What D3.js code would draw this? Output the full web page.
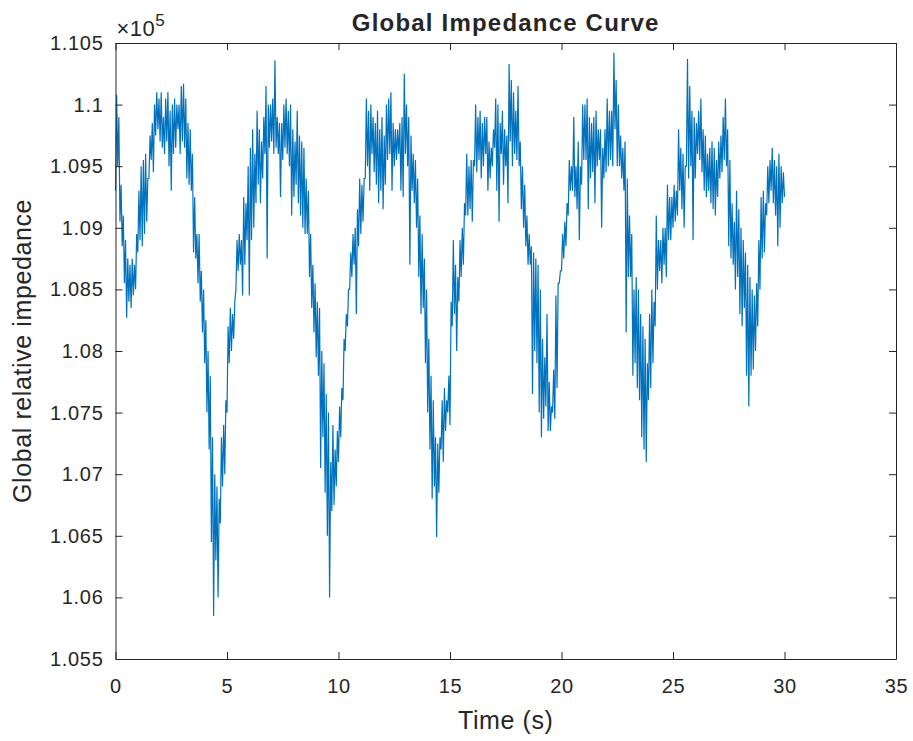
<!DOCTYPE html>
<html>
<head>
<meta charset="utf-8">
<script src="https://cdn.jsdelivr.net/npm/d3@7"></script>
<style>
body { margin: 0; background: #fff; }
svg text { font-family: "Liberation Sans", Arial, Helvetica, sans-serif; fill: #262626; }
</style>
</head>
<body>
<svg id="chart"></svg>
<script>
// サンプル間隔 (s)
var sampleStep = 0.05;

// 読み取った全体インピーダンス値 (0.05 s ごと, 1 行 = 1 秒)
var impedance = [
  109300,110080,109500,109900,109050,109350,108850,109100,108550,108900,108270,108750,108400,108700,108350,108750,108450,108700,108500,108950,
  108800,109300,108900,109500,108850,109550,108950,109600,109050,109400,109400,109750,109550,109850,109450,110000,109750,110100,109800,110050,
  109700,110100,109650,109900,109600,110050,109700,110100,109500,109950,109300,110000,109600,110050,109650,110000,109800,110000,109600,110150,
  109700,110170,109650,110050,109400,109850,109350,109800,109300,109600,108800,109250,108750,108950,108550,108950,108400,108650,108150,108500,
  107900,108250,107500,108000,107200,107800,106450,107300,105850,107000,106300,106900,106000,106800,106600,107300,106900,107400,107000,107600,
  107500,108200,107900,108350,108000,108300,108100,108400,108500,108900,108650,108950,108700,108900,108450,109250,108700,109200,108900,109500,
  108450,109650,108900,109800,109000,109600,109200,109950,109350,109800,109200,109700,109400,109900,109600,110150,108750,110000,109650,110000,
  109700,110050,109600,110360,109650,109900,109600,109850,109250,109850,109550,110000,109650,110050,109600,109950,109500,110000,109100,109800,
  109250,109700,109350,109950,109200,109750,109100,109700,109000,109650,108950,109400,108950,109300,108600,108950,108350,108700,108150,108550,
  107950,108400,107800,108350,107050,108000,107300,107900,106850,107650,106500,107500,106000,107100,106700,107400,106750,107200,106900,107350,
  107100,107550,107300,107700,107600,108100,108000,108300,108200,108500,108500,108800,108600,108950,108700,109000,108300,109150,108850,109400,
  108950,109350,109050,109400,109400,110050,109500,109950,109300,110000,109600,109900,109450,109850,109350,109950,109200,109800,109300,109900,
  109150,109750,109350,110000,109550,110050,109600,110100,109300,109850,109500,109800,109550,109800,109600,109850,109300,109900,109250,110250,
  109600,110000,109500,109900,108700,109750,109300,109600,109200,109550,109000,109400,108600,109100,108300,108950,108350,108750,107900,108500,
  107500,108100,107200,107800,106800,107600,106900,107300,106490,107250,106850,107300,107200,107600,107100,107700,107350,107600,107500,107800,
  107400,108400,108200,108900,108300,108700,108000,108600,108400,108900,108600,109000,108700,109200,109100,109600,109100,109500,109150,109550,
  109050,109550,109500,110000,109450,109900,109550,109950,109400,109850,109500,109900,109600,109900,109300,109700,109400,109650,109500,109800,
  109650,110050,109300,110000,109050,109850,109600,109950,109350,109800,109500,109750,109200,110330,109700,110200,109500,110100,109600,109950,
  109550,110150,109500,109700,109150,109500,109000,109350,108850,109100,108700,108950,108700,108850,107650,108800,108000,108750,107900,108700,
  107500,108500,107300,108100,107450,107950,107550,108300,107350,107750,107350,107550,107500,107850,107450,108450,107700,108550,108550,108650,
  108650,108950,108750,109050,108850,109200,109100,109550,109300,109500,109300,109900,109250,109500,109150,109700,108900,109500,109350,110000,
  109550,110000,109550,110050,109150,109900,109400,109850,109450,109900,109200,109950,109500,109800,109550,109800,109000,109650,109400,109800,
  109450,110050,109500,109950,109550,109950,109500,110420,109800,110200,109500,110000,109500,109750,109400,109650,109300,109700,108150,109400,
  108600,109100,108600,108950,107800,108500,107900,108600,107700,108500,107600,108300,107300,108200,107200,108100,107100,107900,107600,108300,
  107700,108500,107900,108400,108200,109100,108500,108900,108650,108900,108550,109000,108700,109000,108600,109350,108900,109250,108900,109250,
  109000,109350,109050,109300,109100,109800,109300,109650,109150,109600,109000,109500,109500,110370,109400,110150,109500,109950,108900,109900,
  109400,109850,109600,109950,109550,110050,109450,109800,109300,109750,109250,109600,109300,109650,109200,109700,109150,109650,109100,109550,
  109250,109700,109400,109750,109450,109900,109550,110050,109500,109800,108850,109550,108750,109200,108700,109050,108500,109300,108600,109150,
  108300,109000,108200,108900,108350,108800,107800,108700,107550,108600,107800,108500,107850,108450,108000,108550,108200,108900,108500,109250,
  108750,109300,108800,109200,109100,109500,109200,109550,109300,109650,109200,109550,109100,109500,108850,109600,109000,109500,109200,109450,
  109250
];

// 目盛
var xTicks = [0, 5, 10, 15, 20, 25, 30, 35];
var yTicks = [105500, 106000, 106500, 107000, 107500, 108000, 108500, 109000, 109500, 110000, 110500];
var yTickLabels = ["1.055", "1.06", "1.065", "1.07", "1.075", "1.08", "1.085", "1.09", "1.095", "1.1", "1.105"];

var titleText = "Global Impedance Curve";
var xLabelText = "Time (s)";
var yLabelText = "Global relative impedance";

// 表示サイズを設定
var margin = { top: 43, right: 17, bottom: 82, left: 115.5 };
var size = { width: 913, height: 741 };
var width = size.width - margin.left - margin.right;
var height = size.height - margin.top - margin.bottom;

var axisColor = "#262626";
var lineColor = "#0072BD";

var x = d3.scaleLinear().domain([0, 35]).range([0, width]);
var y = d3.scaleLinear().domain([105500, 110500]).range([height, 0]);

var data = impedance.map(function(v, i){
  return { t: i * sampleStep, v: v };
});

var svg = d3.select("#chart")
  .attr("width", size.width)
  .attr("height", size.height);

var g = svg.append("g")
  .attr("transform", "translate(" + margin.left + "," + margin.top + ")");

// 線
var line = d3.line()
  .x(function(d){ return x(d.t); })
  .y(function(d){ return y(d.v); });

g.append("path")
  .datum(data)
  .attr("d", line)
  .attr("fill", "none")
  .attr("stroke", lineColor)
  .attr("stroke-width", 1.2);

// 軸 (MATLAB風に内向きの目盛)
var xAxis = d3.axisBottom(x).tickValues(xTicks).tickSizeInner(-7).tickSizeOuter(0).tickPadding(20);
var yAxis = d3.axisLeft(y).tickValues(yTicks).tickSizeInner(-7).tickSizeOuter(0).tickPadding(12)
  .tickFormat(function(d, i){ return yTickLabels[i]; });
var xTop = d3.axisTop(x).tickValues(xTicks).tickSizeInner(-7).tickSizeOuter(0).tickFormat("");
var yRight = d3.axisRight(y).tickValues(yTicks).tickSizeInner(-7).tickSizeOuter(0).tickFormat("");

var gx = g.append("g").attr("transform", "translate(0," + height + ")").call(xAxis);
var gy = g.append("g").call(yAxis);
var gt = g.append("g").call(xTop);
var gr = g.append("g").attr("transform", "translate(" + width + ",0)").call(yRight);

[gx, gy, gt, gr].forEach(function(a){
  a.selectAll("path, line").attr("stroke", axisColor).attr("stroke-width", 1);
  a.selectAll("text")
    .attr("fill", axisColor)
    .style("font-size", "20px")
    .style("letter-spacing", "0.7px")
    .style("font-family", "'Liberation Sans', Arial, sans-serif");
});

// 指数表記 ×10^5
var expo = g.append("text")
  .attr("x", 1)
  .attr("y", -7)
  .style("font-size", "22px")
  .style("letter-spacing", "0.5px");
expo.append("tspan").text("\u00d710");
expo.append("tspan").attr("dy", -10).style("font-size", "17px").text("5");

// タイトル
svg.append("text")
  .attr("x", margin.left + width / 2)
  .attr("y", 31)
  .attr("text-anchor", "middle")
  .style("font-size", "24px")
  .style("font-weight", "bold")
  .style("letter-spacing", "1.2px")
  .text(titleText);

// 軸ラベル
svg.append("text")
  .attr("x", margin.left + width / 2)
  .attr("y", 729)
  .attr("text-anchor", "middle")
  .style("font-size", "25px")
  .style("letter-spacing", "0.6px")
  .text(xLabelText);

svg.append("text")
  .attr("transform", "translate(31," + (margin.top + height / 2) + ") rotate(-90)")
  .attr("text-anchor", "middle")
  .style("font-size", "25px")
  .style("letter-spacing", "0.6px")
  .text(yLabelText);
</script>
</body>
</html>
